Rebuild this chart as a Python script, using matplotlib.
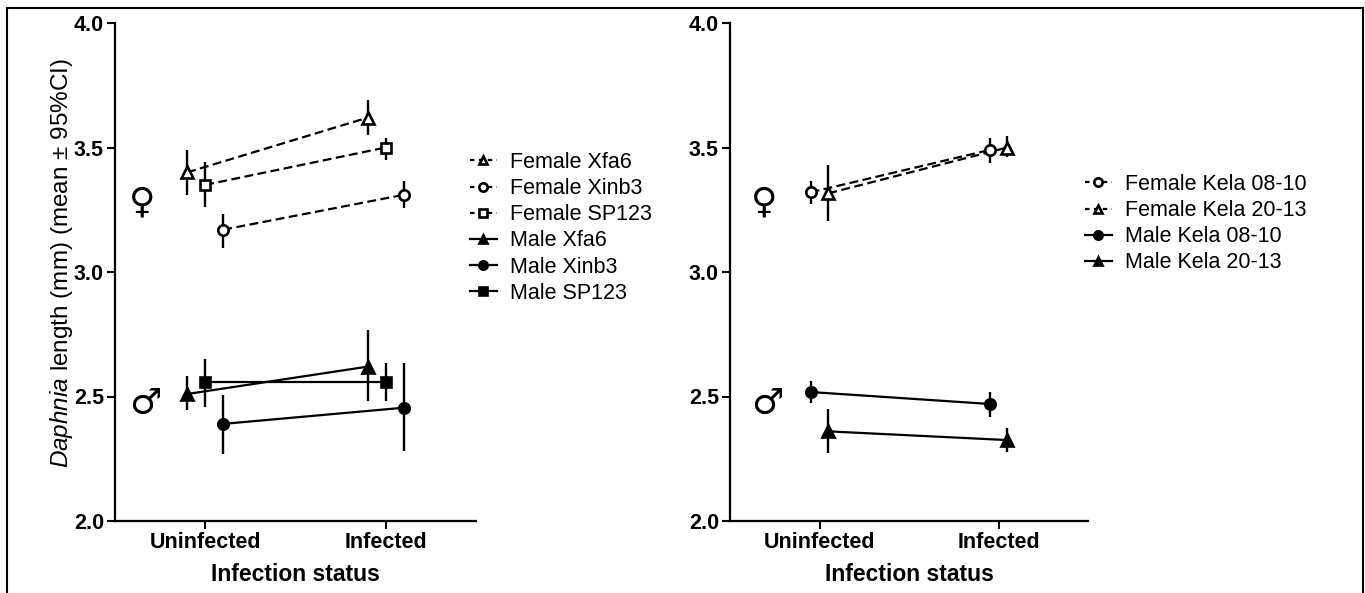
import matplotlib
matplotlib.use("Agg")
import matplotlib.pyplot as plt
from matplotlib.lines import Line2D
from matplotlib.patches import Rectangle

plt.rcParams["font.family"] = ["Liberation Sans", "DejaVu Sans"]
plt.rcParams["mathtext.fontset"] = "custom"
plt.rcParams["mathtext.it"] = "Liberation Sans:italic"
plt.rcParams["mathtext.rm"] = "Liberation Sans"

status = ["Uninfected", "Infected"]

# left panel: clone lines, mean and 95% CI per infection status
left_labels = ["Female Xfa6", "Female Xinb3", "Female SP123",
               "Male Xfa6", "Male Xinb3", "Male SP123"]
left_mean = [[3.40, 3.62], [3.17, 3.31], [3.35, 3.50],
             [2.51, 2.62], [2.39, 2.455], [2.56, 2.56]]
left_lo = [[3.31, 3.55], [3.095, 3.256], [3.26, 3.45],
           [2.446, 2.483], [2.27, 2.28], [2.459, 2.483]]
left_hi = [[3.49, 3.69], [3.233, 3.367], [3.44, 3.54],
           [2.584, 2.767], [2.506, 2.633], [2.649, 2.633]]

# right panel
right_labels = ["Female Kela 08-10", "Female Kela 20-13",
                "Male Kela 08-10", "Male Kela 20-13"]
right_mean = [[3.32, 3.49], [3.316, 3.50], [2.518, 2.47], [2.36, 2.325]]
right_lo = [[3.273, 3.436], [3.206, 3.46], [2.475, 2.417], [2.274, 2.278]]
right_hi = [[3.367, 3.54], [3.428, 3.546], [2.563, 2.517], [2.45, 2.372]]

left_style = [("^", "--", "white", -0.1), ("o", "--", "white", 0.1),
              ("s", "--", "white", 0.0), ("^", "-", "black", -0.1),
              ("o", "-", "black", 0.1), ("s", "-", "black", 0.0)]
right_style = [("o", "--", "white", -0.05), ("^", "--", "white", 0.05),
               ("o", "-", "black", -0.05), ("^", "-", "black", 0.05)]


def draw_panel(ax, labels, mean, lo, hi, styles, legend_xy):
    handles = []
    for lab, m, l, h, (mk, ls, fc, off) in zip(labels, mean, lo, hi, styles):
        xs = [i + off for i in range(len(status))]
        err = [[mm - ll for mm, ll in zip(m, l)], [hh - mm for mm, hh in zip(m, h)]]
        ax.errorbar(xs, m, yerr=err, fmt="none", ecolor="black",
                    elinewidth=1.7, capsize=0, zorder=2)
        ax.plot(xs, m, linestyle=ls, color="black", lw=1.6,
                dashes=(4, 2) if ls == "--" else (None, None), zorder=3)
        ax.plot(xs, m, linestyle="none", marker=mk, ms=7.5 if mk != "^" else 8,
                mfc=fc, mec="black", mew=1.9, zorder=4)
        handles.append(Line2D([], [], color="black", lw=1.6, linestyle=ls,
                              dashes=(2, 2) if ls == "--" else (None, None),
                              marker=mk, ms=6, mfc=fc, mec="black", mew=1.9))
    ax.set_xlim(-0.5, 1.5)
    ax.set_ylim(2.0, 4.0)
    ax.set_xticks([0, 1])
    ax.set_xticklabels(status, fontsize=15.5, fontweight="bold")
    ax.set_yticks([2.0, 2.5, 3.0, 3.5, 4.0])
    ax.set_yticklabels(["2.0", "2.5", "3.0", "3.5", "4.0"], fontsize=15.5,
                       fontweight="bold")
    ax.spines["top"].set_visible(False)
    ax.spines["right"].set_visible(False)
    for s in ("left", "bottom"):
        ax.spines[s].set_linewidth(1.6)
    ax.tick_params(width=1.5, length=6, pad=2)
    ax.set_xlabel("Infection status", fontsize=16.5, fontweight="bold",
                  labelpad=7)
    ax.legend(handles, labels, loc="upper left", bbox_to_anchor=legend_xy,
              bbox_transform=fig.transFigure, frameon=False, fontsize=15.5,
              handlelength=1.25, handletextpad=0.6, labelspacing=0.24,
              borderaxespad=0, borderpad=0)


fig = plt.figure(figsize=(13.65, 5.93), dpi=100)
ax1 = fig.add_axes([115 / 1365, 1 - 521 / 593, 361 / 1365, 498 / 593])
ax2 = fig.add_axes([730 / 1365, 1 - 521 / 593, 358 / 1365, 498 / 593])

draw_panel(ax1, left_labels, left_mean, left_lo, left_hi, left_style,
           (470 / 1365, 1 - 152 / 593))
draw_panel(ax2, right_labels, right_mean, right_lo, right_hi, right_style,
           (1085 / 1365, 1 - 174 / 593))

ax1.set_ylabel(r"$Daphnia$ length (mm) (mean ± 95%CI)", fontsize=17.5)
ax1.yaxis.set_label_coords(-0.11, 0.518)

for ax, xf, xm in ((ax1, -0.35, -0.33), (ax2, -0.31, -0.29)):
    ax.text(xf, 3.28, "♀", fontsize=26, ha="center", va="center",
            family="DejaVu Sans")
    ax.text(xm, 2.47, "♂", fontsize=26, ha="center", va="center",
            family="DejaVu Sans")

fig.patches.append(Rectangle((7 / 1365, -0.05), 1356 / 1365, 1.05 - 8 / 593,
                             transform=fig.transFigure, fill=False,
                             edgecolor="black", lw=1.5))

fig.savefig("out.png", dpi=100)
